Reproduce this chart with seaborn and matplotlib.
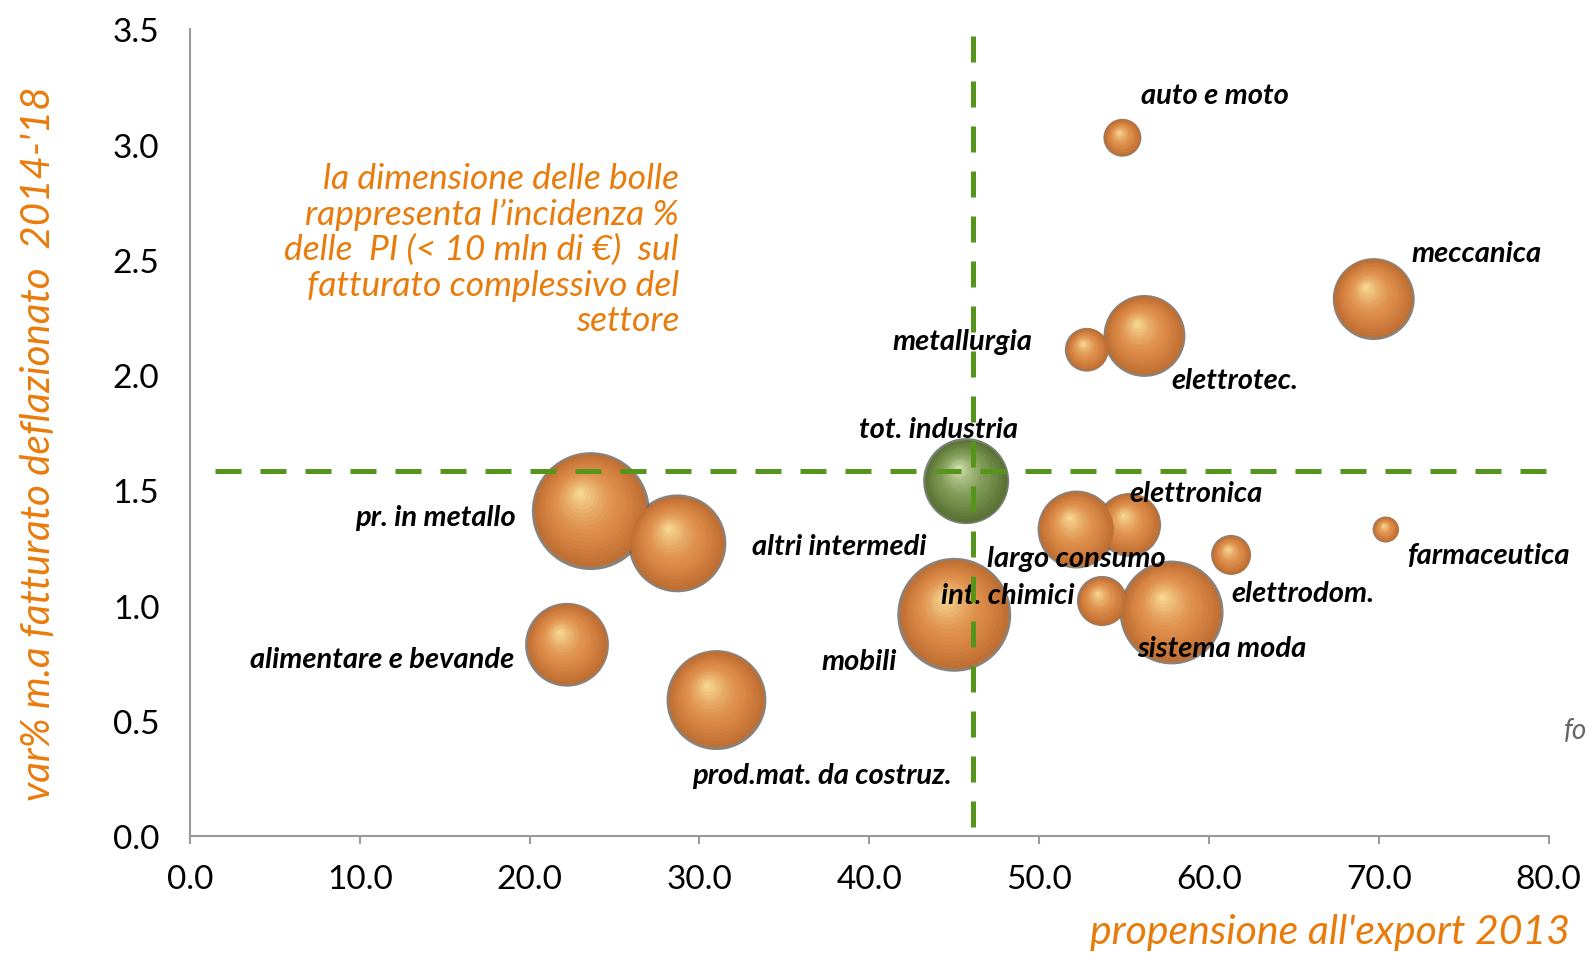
import numpy as np
import pandas as pd
import matplotlib
matplotlib.use('Agg')
import matplotlib.pyplot as plt
import matplotlib.transforms as mtransforms
from matplotlib.colors import to_rgb
import seaborn as sns

# Data
settori = ['pr. in metallo', 'altri intermedi', 'alimentare e bevande', 'prod.mat. da costruz.',
           'mobili', 'tot. industria', 'metallurgia', 'elettrotec.', 'auto e moto', 'meccanica',
           'elettronica', 'largo consumo', 'int. chimici', 'sistema moda', 'elettrodom.', 'farmaceutica']
export_2013 = [23.6, 28.7, 22.2, 31.0, 45.0, 45.7, 52.8, 56.2, 54.9, 69.7,
               55.3, 52.2, 53.7, 57.8, 61.3, 70.4]
var_fatturato = [1.41, 1.27, 0.83, 0.59, 0.96, 1.54, 2.11, 2.17, 3.03, 2.33,
                 1.35, 1.33, 1.02, 0.97, 1.22, 1.33]
incidenza_pi = [34.8, 24.0, 17.6, 25.0, 32.5, 18.5, 4.8, 16.8, 3.6, 16.8,
                10.2, 15.2, 6.3, 27.0, 4.0, 1.7]

media_export = 46.1
media_var = 1.585

# label offsets from bubble centre (x, y, alignment)
label_pos = {
    'auto e moto': (1.1, 0.186, 'left'),
    'meccanica': (2.2, 0.20, 'left'),
    'metallurgia': (-3.2, 0.04, 'right'),
    'elettrotec.': (1.6, -0.19, 'left'),
    'tot. industria': (-1.6, 0.227, 'center'),
    'elettronica': (0.0, 0.139, 'left'),
    'largo consumo': (-5.3, -0.123, 'left'),
    'farmaceutica': (1.3, -0.11, 'left'),
    'elettrodom.': (0.0, -0.167, 'left'),
    'int. chimici': (-9.5, 0.028, 'left'),
    'sistema moda': (-2.0, -0.155, 'left'),
    'mobili': (-3.4, -0.202, 'right'),
    'pr. in metallo': (-4.4, -0.027, 'right'),
    'altri intermedi': (4.4, -0.01, 'left'),
    'alimentare e bevande': (-3.1, -0.063, 'right'),
    'prod.mat. da costruz.': (-1.45, -0.326, 'left'),
}

df = pd.DataFrame({'settore': settori, 'export': export_2013,
                   'var': var_fatturato, 'incidenza': incidenza_pi})
df['gruppo'] = np.where(df['settore'] == 'tot. industria', 'totale', 'settore')

ORANGE = '#e97b0a'
GREEN = '#55951b'
K = 207.0  # points^2 per unit of incidenza

sns.set_theme(style='white')
plt.rcParams['font.family'] = ['Lato', 'DejaVu Sans']

fig = plt.figure(figsize=(15.91, 9.54), dpi=100)
ax = fig.add_axes([0.1194, 0.1226, 0.854, 0.8455])

smax = df['incidenza'].max()
sns.scatterplot(data=df, x='export', y='var', size='incidenza', hue='gruppo',
                palette={'settore': '#6a635c', 'totale': '#56604c'},
                sizes=(0, K * smax), size_norm=(0, smax), legend=False,
                linewidth=0, alpha=0.8, ax=ax, zorder=2)

# sphere shading
palette = {
    'settore': ('#c06f33', '#dc8a47', '#f5d590'),
    'totale': ('#5a7336', '#7a9650', '#cddcaa'),
}
fs = np.linspace(0.955, 0.06, 18)
for i, row in df.iterrows():
    base, mid, hi = [np.array(to_rgb(c)) for c in palette[row['gruppo']]]
    s = K * row['incidenza']
    r_pt = np.sqrt(s) / 2
    z = 3 + i * 0.1
    for f in fs:
        t = (0.955 - f) / 0.895
        if t < 0.4:
            col = base + (mid - base) * (t / 0.4)
        else:
            col = mid + (hi - mid) * ((t - 0.4) / 0.6) ** 1.3
        dy = 0.32 * r_pt * (1 - f) / 72
        dx = -0.2 * r_pt * (1 - f) / 72
        tr = ax.transData + mtransforms.ScaledTranslation(dx, dy, fig.dpi_scale_trans)
        ax.scatter([row['export']], [row['var']], s=s * f ** 2, color=col,
                   linewidths=0, transform=tr, zorder=z)

for _, row in df.iterrows():
    dx, dy, ha = label_pos[row['settore']]
    ax.text(row['export'] + dx, row['var'] + dy, row['settore'], ha=ha, va='center',
            fontsize=21, fontweight='bold', fontstyle='italic', color='black', zorder=6)

# reference lines
ax.plot([media_export, media_export], [0.04, 3.5], color=GREEN, lw=3.6,
        dashes=(5.2, 3.8), zorder=7, clip_on=False)
ax.plot([1.5, 80.5], [media_var, media_var], color=GREEN, lw=3.6,
        dashes=(5.2, 3.8), zorder=7, clip_on=False)

ax.text(28.8, 2.925, "la dimensione delle bolle\nrappresenta l\u2019incidenza %\n"
        "delle  PI (< 10 mln di \u20ac)  sul\nfatturato complessivo del\nsettore",
        ha='right', va='top', multialignment='right', fontsize=25.5, fontstyle='italic',
        color=ORANGE, linespacing=1.13)

ax.set_xlim(0, 80)
ax.set_ylim(0, 3.5)
ax.set_xticks(np.arange(0, 81, 10))
ax.set_yticks(np.arange(0, 3.6, 0.5))
ax.set_xticklabels([f'{v:.1f}' for v in np.arange(0, 81, 10)])
ax.set_yticklabels([f'{v:.1f}' for v in np.arange(0, 3.6, 0.5)])
ax.set_xlabel('')
ax.set_ylabel('')
for side in ['top', 'right']:
    ax.spines[side].set_visible(False)
for side in ['left', 'bottom']:
    ax.spines[side].set_color('#9a9a9a')
    ax.spines[side].set_linewidth(1.5)
ax.tick_params(axis='x', direction='out', length=6, width=1.5, color='#9a9a9a',
               pad=14, labelsize=24, labelcolor='black', bottom=True)
ax.tick_params(axis='y', length=0, pad=22, labelsize=24, labelcolor='black')

fig.text(0.024, 0.535, "var% m.a fatturato deflazionato  2014-'18", rotation=90,
         ha='center', va='center', fontsize=29, fontstyle='italic', color=ORANGE)
fig.text(0.987, 0.01, "propensione all'export 2013", ha='right', va='baseline',
         fontsize=29.5, fontstyle='italic', color=ORANGE)
fig.text(0.983, 0.234, "fo", ha='left', va='center',
         fontsize=20, fontstyle='italic', color='#666666')

fig.savefig('out.png', dpi=100)
